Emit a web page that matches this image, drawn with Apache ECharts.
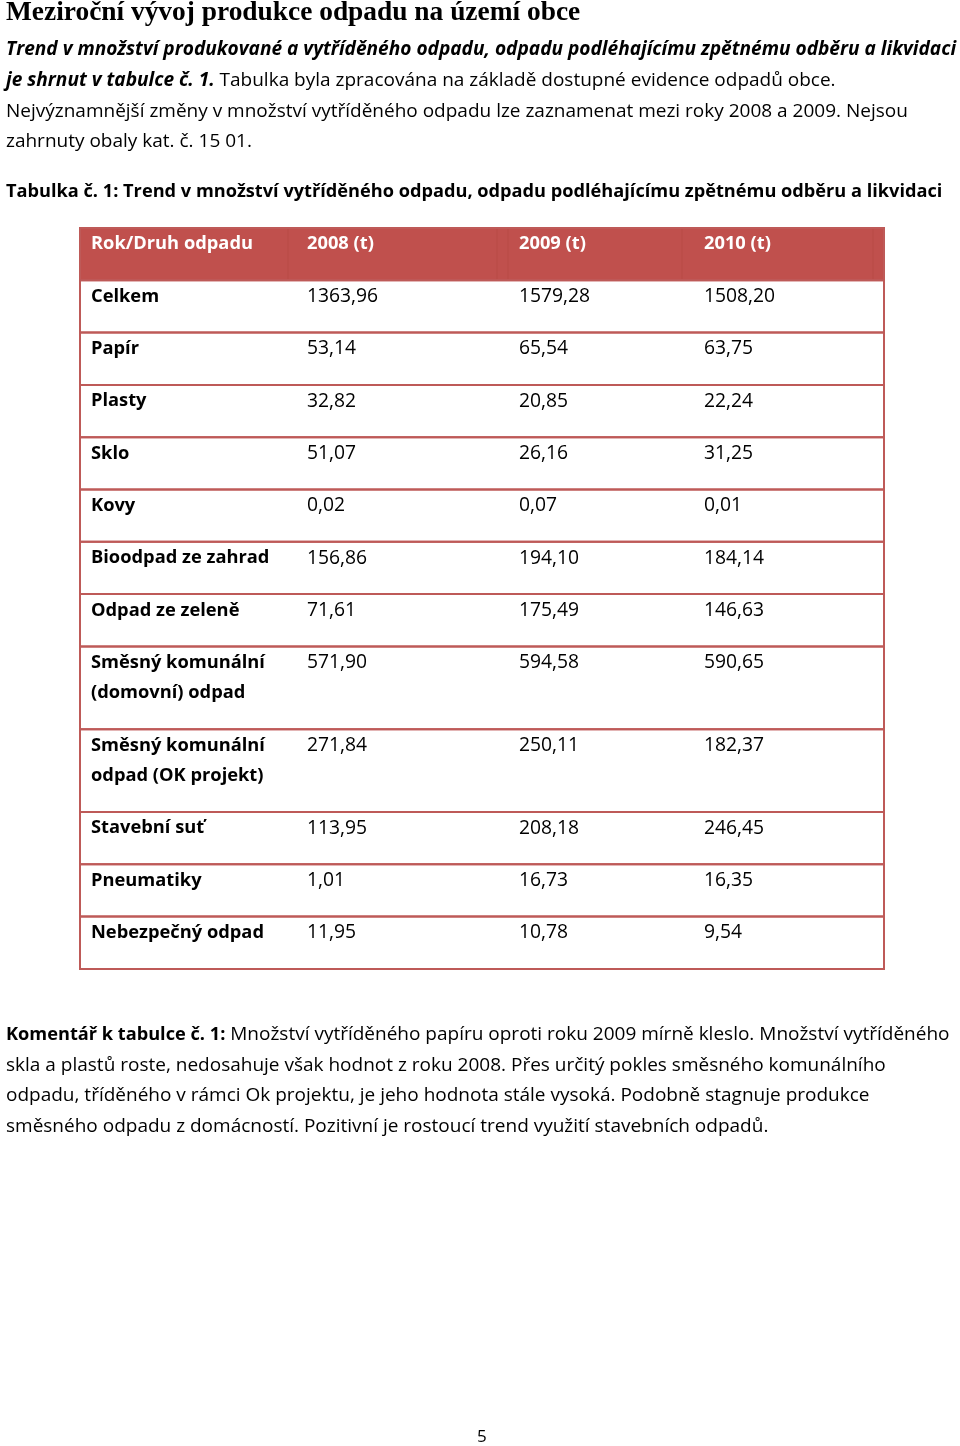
<!DOCTYPE html>
<html><head><meta charset="utf-8">
<script src="https://cdn.jsdelivr.net/npm/echarts@6/dist/echarts.min.js"></script>
<style>html,body{margin:0;padding:0;background:#fff}#c{width:960px;height:1446px}</style>
</head><body><div id="c"></div>
<script>
// ---------- data ----------
const columnHeaders = ['Rok/Druh odpadu', '2008 (t)', '2009 (t)', '2010 (t)'];
const categories = [
  'Celkem', 'Papír', 'Plasty', 'Sklo', 'Kovy', 'Bioodpad ze zahrad', 'Odpad ze zeleně',
  'Směsný komunální\n(domovní) odpad', 'Směsný komunální\nodpad (OK projekt)',
  'Stavební suť', 'Pneumatiky', 'Nebezpečný odpad'
];
const values2008 = [1363.96, 53.14, 32.82, 51.07, 0.02, 156.86, 71.61, 571.90, 271.84, 113.95, 1.01, 11.95];
const values2009 = [1579.28, 65.54, 20.85, 26.16, 0.07, 194.10, 175.49, 594.58, 250.11, 208.18, 16.73, 10.78];
const values2010 = [1508.20, 63.75, 22.24, 31.25, 0.01, 184.14, 146.63, 590.65, 182.37, 246.45, 16.35, 9.54];

// ---------- layout / style ----------
const FONT = '"Open Sans", sans-serif';
const RED = '#C0504D';
const BORDER = '#BE5A58';
const TABLE_LEFT = 80, TABLE_TOP = 228, TABLE_W = 804;
const LINE_H = 30.5, ROW_PAD = 21.8;
const COL_X = [11, 227, 439, 624];
const REG_SIZE = 19.3, BOLD_SIZE = 18.3;

const fmt = v => v.toFixed(2).replace('.', ',');
const rows = [{ cells: columnHeaders, header: true }].concat(categories.map((c, i) => ({
  cells: [c, fmt(values2008[i]), fmt(values2009[i]), fmt(values2010[i])], header: false
})));
const heights = rows.map(r => ROW_PAD + LINE_H * Math.max(...r.cells.map(s => s.split('\n').length)));
const tops = [];
heights.reduce((acc, h) => { tops.push(acc); return acc + h; }, 0);
const TABLE_H = heights.reduce((a, b) => a + b, 0);

function renderItem(params, api) {
  const i = api.value(0), top = api.value(1), h = api.value(2);
  const row = rows[i];
  const p0 = api.coord([0, top]);
  const p1 = api.coord([TABLE_W, top + h]);
  const children = [{
    type: 'rect',
    shape: { x: p0[0], y: p0[1], width: p1[0] - p0[0], height: p1[1] - p0[1] },
    style: { fill: row.header ? RED : 'none', stroke: BORDER, lineWidth: 2 }
  }];
  if (row.header) {
    [208, 417, 428, 602, 793].forEach(x => {
      const a = api.coord([x, top]), b = api.coord([x, top + h]);
      children.push({ type: 'line', shape: { x1: a[0], y1: a[1] + 1, x2: b[0], y2: b[1] - 1 },
        style: { stroke: '#B84A47', lineWidth: 1 } });
    });
  }
  row.cells.forEach((txt, c) => {
    const bold = row.header || c === 0;
    const pt = api.coord([COL_X[c], top]);
    children.push({
      type: 'text', x: pt[0], y: pt[1] + 1,
      style: {
        text: txt, fill: row.header ? '#ffffff' : '#000000',
        font: (bold ? 'bold ' : '') + (bold ? BOLD_SIZE : REG_SIZE) + 'px ' + FONT,
        lineHeight: LINE_H, verticalAlign: 'top', align: 'left'
      }
    });
  });
  return { type: 'group', children };
}

// ---------- page text ----------
const rich = {
  n: { fontFamily: FONT, fontSize: 19.0, color: '#000' },
  b: { fontFamily: FONT, fontSize: 18.2, fontWeight: 'bold', color: '#000' },
  bi: { fontFamily: FONT, fontSize: 19.1, fontWeight: 'bold', fontStyle: 'italic', color: '#000' }
};
function line(y, text) {
  return { type: 'text', left: 6, top: y - 12, style: { text, rich, lineHeight: 28 } };
}
const graphics = [
  { type: 'text', left: 6, top: -1, style: { text: 'Meziroční vývoj produkce odpadu na území obce',
    font: 'bold 27.4px "Liberation Serif", serif', fill: '#000' } },
  line(48, '{bi|Trend v množství produkované a vytříděného odpadu, odpadu podléhajícímu zpětnému odběru a likvidaci}'),
  line(79, '{bi|je shrnut v tabulce č. 1.}{n| Tabulka byla zpracována na základě dostupné evidence odpadů obce.}'),
  line(110, '{n|Nejvýznamnější změny v množství vytříděného odpadu lze zaznamenat mezi roky 2008 a 2009. Nejsou}'),
  line(140, '{n|zahrnuty obaly kat. č. 15 01.}'),
  line(190, '{b|Tabulka č. 1: Trend v množství vytříděného odpadu, odpadu podléhajícímu zpětnému odběru a likvidaci}'),
  line(1033, '{b|Komentář k tabulce č. 1:}{n| Množství vytříděného papíru oproti roku 2009 mírně kleslo. Množství vytříděného}'),
  line(1064, '{n|skla a plastů roste, nedosahuje však hodnot z roku 2008. Přes určitý pokles směsného komunálního}'),
  line(1094, '{n|odpadu, tříděného v rámci Ok projektu, je jeho hodnota stále vysoká. Podobně stagnuje produkce}'),
  line(1125, '{n|směsného odpadu z domácností. Pozitivní je rostoucí trend využití stavebních odpadů.}'),
  { type: 'text', left: 477, top: 1429, style: { text: '5', font: '17px ' + FONT, fill: '#000' } }
];

const chart = echarts.init(document.getElementById('c'), null, { renderer: 'canvas' });
chart.setOption({
  backgroundColor: '#ffffff',
  animation: false,
  grid: { left: TABLE_LEFT, top: TABLE_TOP, width: TABLE_W, height: TABLE_H },
  xAxis: { type: 'value', min: 0, max: TABLE_W, show: false },
  yAxis: { type: 'value', min: 0, max: TABLE_H, inverse: true, show: false },
  graphic: graphics,
  series: [{
    type: 'custom', renderItem, clip: false,
    data: rows.map((r, i) => [i, tops[i], heights[i]])
  }]
});
</script></body></html>
